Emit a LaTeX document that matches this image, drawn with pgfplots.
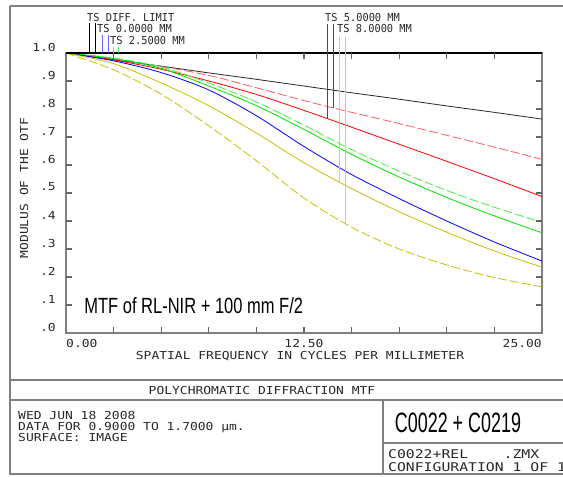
\documentclass[border=0pt]{standalone}
\usepackage{pgfplots}
\pgfplotsset{compat=1.18}
\usepackage{pgfplotstable}
\usepackage{fontspec}
\setmainfont{Liberation Sans}
\newfontfamily\zfont[FakeStretch=1.18]{DejaVu Sans Mono}
\newfontfamily\zleg[FakeStretch=0.94]{DejaVu Sans Mono}
\newfontfamily\zbig[FakeStretch=1.23]{DejaVu Sans Mono}
\newfontfamily\arialn[FakeStretch=0.75]{Liberation Sans}
\newfontfamily\arialc[FakeStretch=0.64]{Liberation Sans}

\definecolor{zgray}{RGB}{128,128,128}
\definecolor{ztext}{RGB}{40,40,40}
\definecolor{zred}{RGB}{255,0,0}
\definecolor{zpink}{RGB}{255,90,90}
\definecolor{zgreen}{RGB}{0,225,0}
\definecolor{zlgreen}{RGB}{70,235,70}
\definecolor{zblue}{RGB}{0,0,255}
\definecolor{zyellow}{RGB}{200,190,0}
\definecolor{zlyellow}{RGB}{215,210,90}

% MTF vs spatial frequency (cycles/mm); T = tangential, S = sagittal
\pgfplotstableread{
f    diff  redS  redT  greenS greenT blue  yelT  yelS
0    1.000 1.000 1.000 1.000  1.000  1.000 1.000 1.000
2.5  0.976 0.978 0.975 0.982  0.980  0.972 0.962 0.940
5    0.953 0.952 0.942 0.950  0.945  0.930 0.893 0.853
7.5  0.929 0.920 0.900 0.893  0.882  0.868 0.812 0.740
10   0.906 0.876 0.852 0.825  0.812  0.776 0.714 0.615
12.5 0.882 0.830 0.795 0.742  0.727  0.666 0.608 0.482
15   0.858 0.788 0.735 0.655  0.638  0.566 0.516 0.378
17.5 0.835 0.748 0.674 0.578  0.557  0.480 0.433 0.300
20   0.811 0.706 0.613 0.509  0.484  0.400 0.360 0.243
22.5 0.788 0.664 0.551 0.449  0.418  0.325 0.293 0.198
25   0.764 0.620 0.487 0.395  0.358  0.257 0.235 0.165
}\mtf

\begin{document}
\begin{tikzpicture}
\begin{scope}[x=1pt,y=-1pt]
  \path[use as bounding box] (0,0) rectangle (563,477);
  \clip (0,0) rectangle (563,477);
  % outer frame and bottom panel
  \draw[zgray, line width=1.2pt] (10,6) -- (570,6);
  \draw[zgray, line width=1.2pt] (10,6) -- (10,474) -- (570,474);
  \draw[zgray, line width=1.2pt] (10,380) -- (570,380);
  \draw[zgray, line width=1.2pt] (10,400) -- (570,400);
  \draw[zgray, line width=1.2pt] (383,400) -- (383,474);
  \draw[zgray, line width=1.2pt] (383,443) -- (570,443);
  \node[font=\zfont\fontsize{11}{12}\selectfont, text=ztext] at (262,390) {POLYCHROMATIC DIFFRACTION MTF};
  \node[font=\zfont\fontsize{11}{11}\selectfont, text=ztext, anchor=base west, inner sep=0] at (18,419) {WED JUN 18 2008};
  \node[font=\zfont\fontsize{11}{11}\selectfont, text=ztext, anchor=base west, inner sep=0] at (18,430) {DATA FOR 0.9000 TO 1.7000 µm.};
  \node[font=\zfont\fontsize{11}{11}\selectfont, text=ztext, anchor=base west, inner sep=0] at (18,441) {SURFACE: IMAGE};
  \node[font=\arialc\fontsize{28}{30}\selectfont, text=black, anchor=base] at (458,432) {C0022 + C0219};
  \node[font=\zbig\fontsize{12}{12}\selectfont, text=ztext, anchor=base west, inner sep=0] at (388,458) {C0022+REL\phantom{MMMM}.ZMX};
  \node[font=\zbig\fontsize{12}{12}\selectfont, text=ztext, anchor=base west, inner sep=0] at (388,471) {CONFIGURATION 1 OF 1};
  % axis labels
  \node[font=\zfont\fontsize{11}{12}\selectfont, text=ztext] at (300,356) {SPATIAL FREQUENCY IN CYCLES PER MILLIMETER};
  \node[font=\zfont\fontsize{11}{12}\selectfont, text=ztext, rotate=90] at (24,188) {MODULUS OF THE OTF};
  \node[font=\zfont\fontsize{11}{12}\selectfont, text=ztext, anchor=west, inner sep=0] at (66,343) {0.00};
  \node[font=\zfont\fontsize{11}{12}\selectfont, text=ztext, inner sep=0] at (304,343) {12.50};
  \node[font=\zfont\fontsize{11}{12}\selectfont, text=ztext, anchor=east, inner sep=0] at (542,343) {25.00};
  \foreach \v/\t in {0/.0,1/.1,2/.2,3/.3,4/.4,5/.5,6/.6,7/.7,8/.8,9/.9,10/1.0}
    \node[font=\zfont\fontsize{11}{12}\selectfont, text=ztext, anchor=east, inner sep=0] at (56,{333-28*\v-6}) {\t};
  % legend texts
  \node[font=\zleg\fontsize{11}{11}\selectfont, text=ztext, anchor=base west, inner sep=0] at (87,21) {TS DIFF. LIMIT};
  \node[font=\zleg\fontsize{11}{11}\selectfont, text=ztext, anchor=base west, inner sep=0] at (97,32) {TS 0.0000 MM};
  \node[font=\zleg\fontsize{11}{11}\selectfont, text=ztext, anchor=base west, inner sep=0] at (110,44) {TS 2.5000 MM};
  \node[font=\zleg\fontsize{11}{11}\selectfont, text=ztext, anchor=base west, inner sep=0] at (325,21) {TS 5.0000 MM};
  \node[font=\zleg\fontsize{11}{11}\selectfont, text=ztext, anchor=base west, inner sep=0] at (337,32) {TS 8.0000 MM};
\end{scope}

\begin{axis}[
  at={(66pt,-333pt)}, anchor=south west,
  scale only axis, width=476pt, height=280pt,
  xmin=0, xmax=25, ymin=0, ymax=1,
  clip=false,
  axis line style={zgray, line width=1.2pt},
  xtick=\empty, ytick=\empty,
  every axis plot/.append style={line width=0.8pt, smooth},
]
\addplot[black!85] table[x=f, y=diff] {\mtf};
\addplot[zpink, dash pattern=on 9pt off 3pt] table[x=f, y=redS] {\mtf};
\addplot[zred] table[x=f, y=redT] {\mtf};
\addplot[zlgreen, dash pattern=on 9pt off 3pt] table[x=f, y=greenS] {\mtf};
\addplot[zgreen] table[x=f, y=greenT] {\mtf};
\addplot[zblue] table[x=f, y=blue] {\mtf};
\addplot[zyellow] table[x=f, y=yelT] {\mtf};
\addplot[zyellow, dash pattern=on 9pt off 3pt] table[x=f, y=yelS] {\mtf};
\draw[black, line width=1.2pt] (rel axis cs:0,1) -- (rel axis cs:1,1);
% legend leader lines
\draw[black, line width=0.7pt] (axis cs:1.21,1.107) -- (axis cs:1.21,1);
\draw[black, line width=0.7pt] (axis cs:1.52,1.107) -- (axis cs:1.52,1);
\draw[zblue!60, line width=0.9pt] (axis cs:1.89,1.064) -- (axis cs:1.89,1);
\draw[zblue!60, line width=0.9pt] (axis cs:2.21,1.064) -- (axis cs:2.21,1);
\draw[zgreen!70, line width=0.9pt] (axis cs:2.47,1.021) -- (axis cs:2.47,1);
\draw[zgreen!70, line width=0.9pt] (axis cs:2.78,1.021) -- (axis cs:2.78,1);
\draw[zred, line width=0.8pt] (axis cs:13.72,1.104) -- (axis cs:13.72,0.766);
\draw[zred, line width=0.8pt] (axis cs:14.04,1.104) -- (axis cs:14.04,0.804);
\draw[zlyellow, line width=0.9pt] (axis cs:14.35,1.057) -- (axis cs:14.35,0.540);
\draw[zlyellow, line width=0.9pt] (axis cs:14.69,1.057) -- (axis cs:14.69,0.391);
\node[font=\arialn\fontsize{22}{24}\selectfont, fill=white, anchor=base west, inner sep=2pt] at (axis cs:0.85,0.07) {MTF of RL-NIR + 100 mm F/2};
\end{axis}

% tick marks, inside the plot box on all four sides (box: x 66..542, y 53..333)
\begin{scope}[x=1pt,y=-1pt]
  \foreach \i in {1,...,9} {
    \draw[black!60, line width=1.2pt] ({66+47.6*\i},333) -- ({66+47.6*\i},327);
    \draw[black!60, line width=1.2pt] ({66+47.6*\i},53) -- ({66+47.6*\i},59);
    \draw[black!60, line width=1.2pt] (66,{333-28*\i}) -- (72,{333-28*\i});
    \draw[black!60, line width=1.2pt] (542,{333-28*\i}) -- (536,{333-28*\i});
  }
\end{scope}
\end{tikzpicture}
\end{document}
